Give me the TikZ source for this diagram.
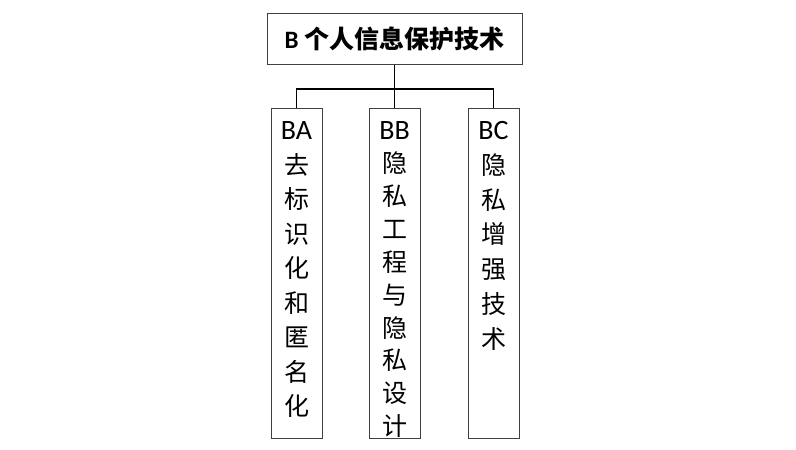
\documentclass[tikz,border=0pt]{standalone}
\usepackage{fontspec}
\setmainfont{Carlito}
\newfontfamily\cjk{Noto Sans CJK SC}
\begin{document}
\begin{tikzpicture}[x=1pt,y=1pt,
  boxstyle/.style={draw=black!75, line width=1pt, rectangle, inner sep=0pt},
  colbox/.style={boxstyle, minimum width=51pt, minimum height=330pt},
  coltext/.style={anchor=north, inner sep=0pt, align=center, text=black},
  link/.style={draw=black, line width=1.8pt}]
\useasboundingbox (0,0) rectangle (796,-450);
\fill[white] (0,0) rectangle (796,-450);
% top box
\node[boxstyle, minimum width=255pt, minimum height=51pt, font=\fontsize{25}{30}\selectfont]
  (top) at (394.5,-38.5) {\textbf{B} {\cjk\bfseries 个人信息保护技术}};
% column boxes
\node[colbox] (ba) at (296.5,-273) {};
\node[colbox] (bb) at (394.5,-273) {};
\node[colbox] (bc) at (493.5,-273) {};
% connectors
\coordinate (j) at (394.5,-89);
\draw[link] (top.south) -- (j);
\draw[link] (ba.north) |- (j) -| (bc.north);
\draw[link] (j) -- (bb.north);
% column texts
\newcommand\lat[1]{{\fontsize{28}{34}\selectfont #1}}
\begin{scope}
\clip (ba.north west) rectangle (ba.south east);
\node[coltext, font=\fontsize{25}{34.5}\selectfont] (bat) at ([yshift=-14pt]ba.north)
  {\lat{BA}\\{\cjk 去}\\{\cjk 标}\\{\cjk 识}\\{\cjk 化}\\{\cjk 和}\\{\cjk 匿}\\{\cjk 名}\\{\cjk 化}};
\end{scope}
\begin{scope}
\clip (bb.north west) rectangle (bb.south east);
\node[coltext, font=\fontsize{25}{32.9}\selectfont] (bbt) at ([yshift=-14pt]bb.north)
  {\lat{BB}\\{\cjk 隐}\\{\cjk 私}\\{\cjk 工}\\{\cjk 程}\\{\cjk 与}\\{\cjk 隐}\\{\cjk 私}\\{\cjk 设}\\{\cjk 计}};
\end{scope}
\begin{scope}
\clip (bc.north west) rectangle (bc.south east);
\node[coltext, font=\fontsize{25}{34.7}\selectfont] (bct) at ([yshift=-14pt]bc.north)
  {\lat{BC}\\{\cjk 隐}\\{\cjk 私}\\{\cjk 增}\\{\cjk 强}\\{\cjk 技}\\{\cjk 术}};
\end{scope}
\end{tikzpicture}
\end{document}
